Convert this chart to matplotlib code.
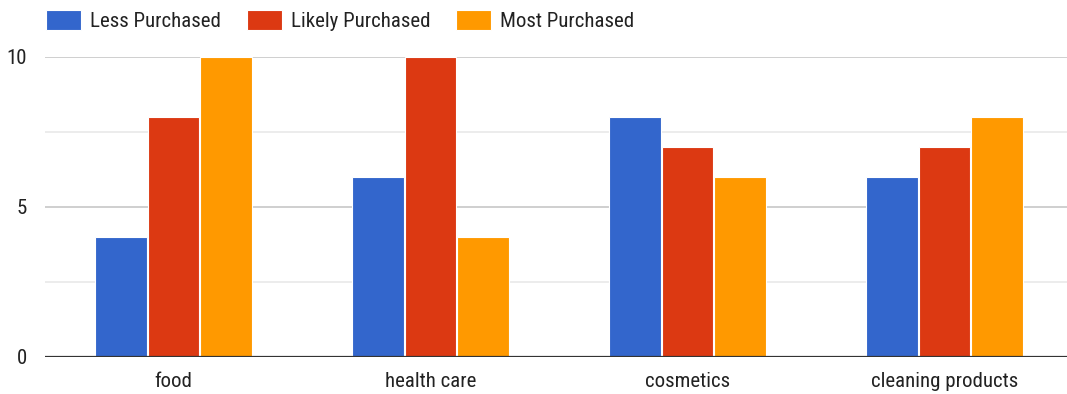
import numpy as np
import matplotlib
matplotlib.use("Agg")
import matplotlib.pyplot as plt
from matplotlib.ticker import FixedLocator

categories = ["food", "health care", "cosmetics", "cleaning products"]
series_names = ["Less Purchased", "Likely Purchased", "Most Purchased"]
less_purchased = [4, 6, 8, 6]
likely_purchased = [8, 10, 7, 7]
most_purchased = [10, 4, 6, 8]
y_ticks = [0, 5, 10]
y_minor = [2.5, 7.5]

colors = ["#3366cc", "#dc3912", "#ff9900"]

plt.rcParams["font.family"] = ["Roboto Condensed", "Liberation Sans", "DejaVu Sans"]

W, H = 1067, 394
fig = plt.figure(figsize=(W / 100, H / 100), dpi=100)
ax = fig.add_axes([45 / W, 37.5 / H, 1028 / W, 300 / H])

x = np.arange(len(categories))
width = 0.2
offsets = [-0.205, 0, 0.205]
for vals, off, col, name in zip([less_purchased, likely_purchased, most_purchased],
                                offsets, colors, series_names):
    ax.bar(x + off, vals, width, color=col, edgecolor="white", linewidth=0.8,
           label=name, zorder=3)

ax.set_xlim(-0.5, len(categories) - 0.5)
ax.set_ylim(0, 10)
ax.set_yticks(y_ticks)
ax.yaxis.set_minor_locator(FixedLocator(y_minor))
ax.grid(axis="y", which="major", color="#cccccc", linewidth=1.3, zorder=0)
ax.grid(axis="y", which="minor", color="#ebebeb", linewidth=1.3, zorder=0)
ax.axhline(0, color="#333333", linewidth=1.6, zorder=4)

ax.set_xticks(x)
ax.set_xticklabels(categories)
ax.tick_params(axis="both", which="both", length=0, labelsize=15, labelcolor="#222222")
ax.tick_params(axis="x", pad=11)
ax.tick_params(axis="y", pad=13)
for lbl in ax.get_yticklabels():
    lbl.set_horizontalalignment("right")
for s in ax.spines.values():
    s.set_visible(False)

fig.legend(loc="upper left", bbox_to_anchor=(46 / W, 1 - 10.5 / H), ncol=3,
           frameon=False, fontsize=15, borderpad=0, borderaxespad=0,
           handlelength=1.68, handleheight=1.03, handletextpad=0.43,
           columnspacing=1.25, labelcolor="#222222")

fig.savefig("out.png", dpi=100)
